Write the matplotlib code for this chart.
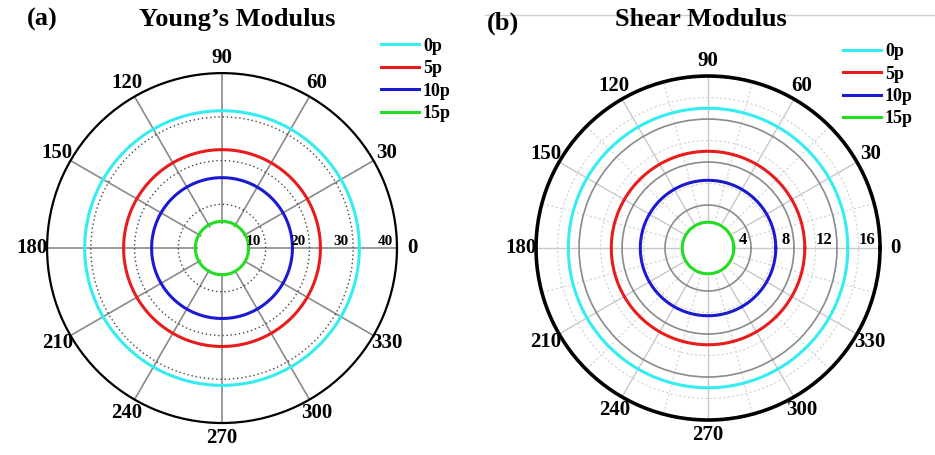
import numpy as np
import matplotlib.pyplot as plt
from matplotlib.lines import Line2D

plt.rcParams['font.family'] = ['Liberation Serif', 'DejaVu Serif']
plt.rcParams['font.weight'] = 'bold'

# radius of each (isotropic) curve
labels = ['0p', '5p', '10p', '15p']
colors = ['#35ecf0', '#e81c1c', '#1a1ad0', '#22dd22']
young = [31.4, 22.5, 16.1, 6.1]
shear = [13.0, 9.0, 6.3, 2.4]

theta_ticks = np.arange(0, 360, 30)
young_rticks = [10, 20, 30, 40]
shear_rticks = [4, 8, 12, 16]

theta = np.linspace(0, 2 * np.pi, 721)

fig = plt.figure(figsize=(9.35, 4.55), dpi=100)
axa = fig.add_axes([0.0503, 0.0703, 0.3743, 0.769], projection='polar')
axb = fig.add_axes([0.5733, 0.0769, 0.3679, 0.756], projection='polar')


def setup(ax, rmax, rticks, hole, rsize):
    ax.set_ylim(0, rmax)
    ax.set_xticks(np.deg2rad(theta_ticks))
    ax.set_xticklabels([str(t) for t in theta_ticks], fontsize=15, fontweight='bold')
    ax.set_yticks(rticks[:-1])
    ax.set_yticklabels([])
    ax.tick_params(axis='x', pad=4)
    # white centre where the spokes stop
    ax.fill_between(theta, 0, hole, color='white', zorder=1.8, lw=0)
    for r in rticks:
        ax.annotate(str(r), xy=(0, r), xytext=(-3, 0), textcoords='offset points',
                    ha='right', va='bottom', fontsize=rsize, fontweight='bold', zorder=5)


# (a) Young's modulus
setup(axa, 40, young_rticks, 5.6, 11)
axa.xaxis.grid(True, color='#8a8a8a', lw=1.2, ls='-')
axa.yaxis.grid(True, color='#444444', lw=1.0, ls=(0, (1, 2)))
axa.spines['polar'].set_linewidth(1.6)
axa.tick_params(axis='x', direction='in', length=6, width=1.5, color='black')
for val, lab, c in zip(young, labels, colors):
    axa.plot(theta, np.full_like(theta, val), color=c, lw=2.2, label=lab, zorder=3)

# (b) Shear modulus
setup(axb, 16, shear_rticks, 2.6, 12)
axb.set_xticks(np.deg2rad(theta_ticks + 15), minor=True)
axb.set_yticks([2, 6, 10, 14], minor=True)
axb.xaxis.grid(True, which='major', color='#c8c8c8', lw=1.0, ls='-')
axb.xaxis.grid(True, which='minor', color='#d0d0d0', lw=0.8, ls=(0, (2, 2)))
axb.yaxis.grid(True, which='major', color='#8a8a8a', lw=1.2, ls='-')
axb.yaxis.grid(True, which='minor', color='#d0d0d0', lw=0.8, ls=(0, (2, 2)))
axb.spines['polar'].set_linewidth(2.6)
axb.tick_params(axis='x', which='major', direction='in', length=6, width=1.8, color='black')
axb.tick_params(axis='x', which='minor', direction='in', length=4, width=1.5, color='black')
for val, lab, c in zip(shear, labels, colors):
    axb.plot(theta, np.full_like(theta, val), color=c, lw=2.2, label=lab, zorder=3)

legend_kw = dict(loc='upper left', frameon=False, handlelength=2.1, handletextpad=0.2,
                 labelspacing=0.3, borderaxespad=0, borderpad=0,
                 prop={'weight': 'bold', 'size': 13})
axa.legend(bbox_to_anchor=(0.408, 0.917), bbox_transform=fig.transFigure, **legend_kw)
axb.legend(bbox_to_anchor=(0.902, 0.905), bbox_transform=fig.transFigure, **legend_kw)

fig.text(0.029, 0.958, '(a)', fontsize=19, fontweight='bold', va='center')
fig.text(0.254, 0.958, 'Young\u2019s Modulus', fontsize=19, fontweight='bold', ha='center', va='center')
fig.text(0.521, 0.948, '(b)', fontsize=19, fontweight='bold', va='center')
fig.text(0.750, 0.958, 'Shear Modulus', fontsize=19, fontweight='bold', ha='center', va='center')
fig.add_artist(Line2D([0.519, 1.0], [0.967, 0.967], transform=fig.transFigure,
                      color='#cfcfcf', lw=1.0, zorder=0))

fig.savefig('out.png', dpi=100)
